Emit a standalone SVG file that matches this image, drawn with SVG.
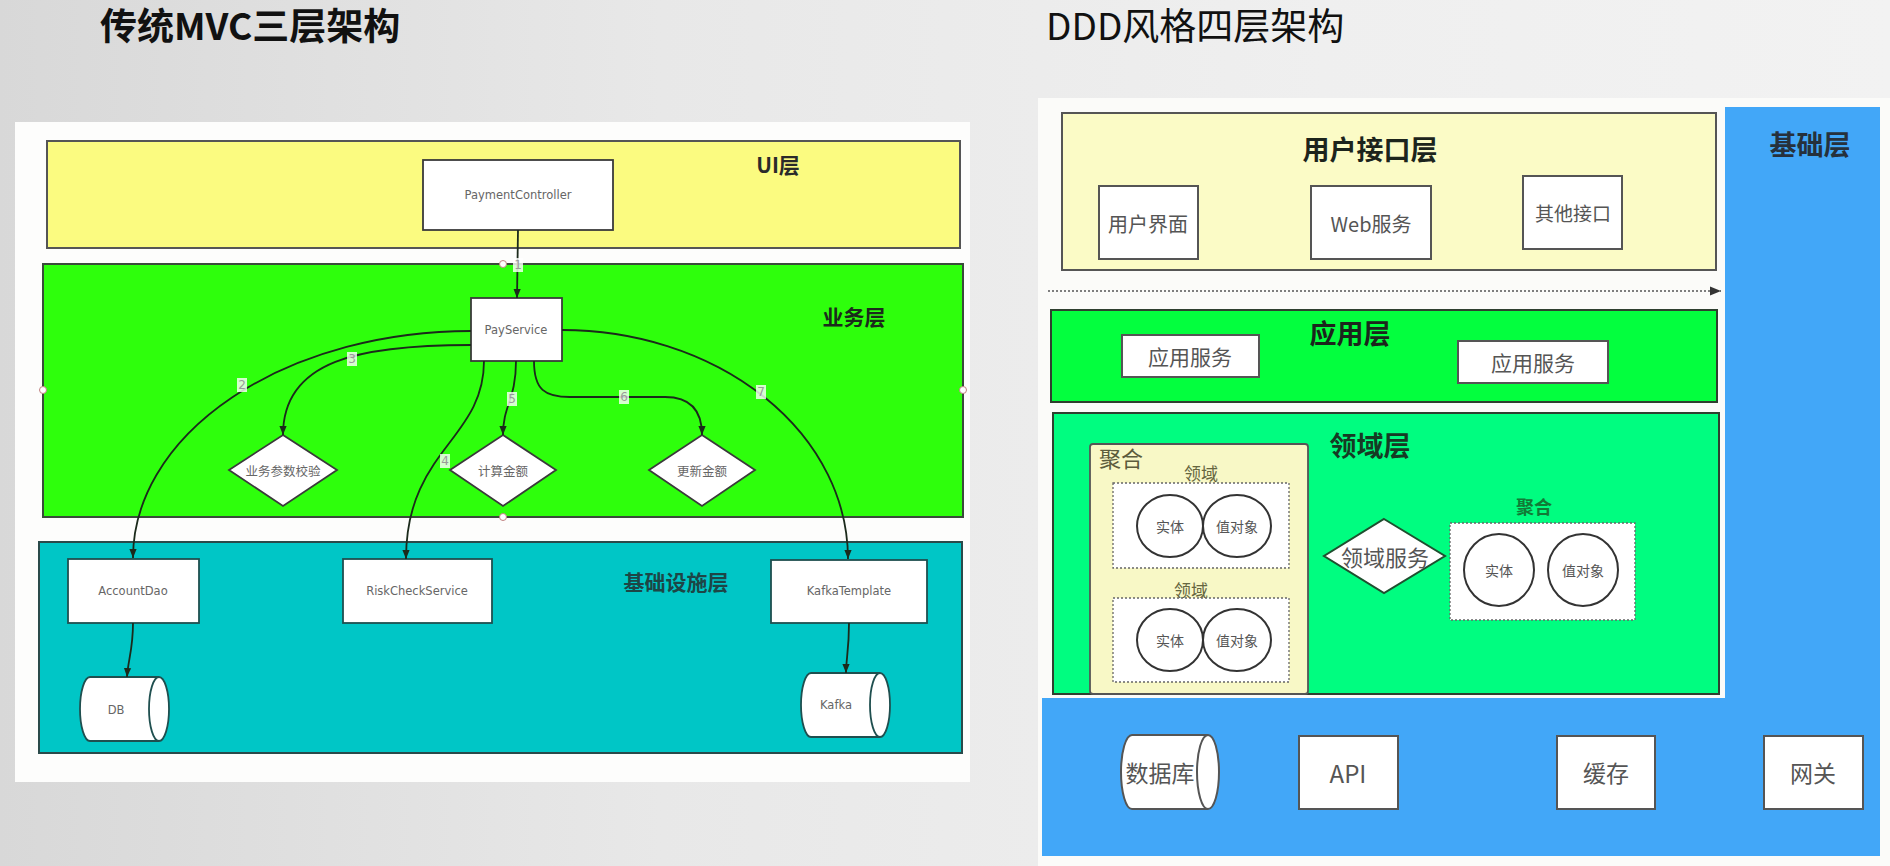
<svg xmlns="http://www.w3.org/2000/svg" width="1890" height="866" viewBox="0 0 1890 866">
  <defs>
    <linearGradient id="bg" x1="0" y1="0" x2="1" y2="0">
      <stop offset="0" stop-color="#d8d8d8"/>
      <stop offset="0.35" stop-color="#e8e8e8"/>
      <stop offset="0.7" stop-color="#efefef"/>
      <stop offset="1" stop-color="#f2f2f2"/>
    </linearGradient>
    <marker id="arrow" viewBox="0 0 10 10" refX="10" refY="5" markerWidth="9" markerHeight="9" markerUnits="userSpaceOnUse" orient="auto">
      <path d="M0,1 L10,5 L0,9 z" fill="#1b2a1b"/>
    </marker>
    <marker id="arrowDot" viewBox="0 0 10 10" refX="10" refY="5" markerWidth="11" markerHeight="11" markerUnits="userSpaceOnUse" orient="auto">
      <path d="M0,1 L10,5 L0,9 z" fill="#333"/>
    </marker>
    <style>
      .title { font-family: "Noto Sans CJK SC", "Noto Sans", sans-serif; font-size: 37px; fill: #111; }
      .layerL { font-family: "Noto Sans CJK SC", sans-serif; font-size: 21px; font-weight: bold; text-anchor: middle; }
      .layerR { font-family: "Noto Sans CJK SC", sans-serif; font-size: 27px; font-weight: bold; text-anchor: middle; fill: #1c241c; }
      .node { fill: #ffffff; stroke: #3a3a3a; stroke-width: 1.8; }
      .nodeT { fill: #ffffff; stroke: #1f4f4f; stroke-width: 1.8; }
      .lbl { font-family: "DejaVu Sans", "Noto Sans CJK SC", sans-serif; font-size: 11.5px; fill: #666; text-anchor: middle; dominant-baseline: central; }
      .cjk { font-family: "Noto Sans CJK SC", sans-serif; font-size: 12.5px; fill: #666; text-anchor: middle; dominant-baseline: central; }
      .edge { fill: none; stroke: #1b2a1b; stroke-width: 1.8; marker-end: url(#arrow); }
      .elbl { font-family: "DejaVu Sans", sans-serif; font-size: 12px; fill: #9a9a9a; text-anchor: middle; dominant-baseline: central; }
      .elblBg { fill: #ffffff; opacity: 0.8; }
      .handle { fill: #ffffff; stroke: #c08080; stroke-width: 1; }
      .box { fill: #ffffff; stroke: #555; stroke-width: 2; }
      .boxT { font-family: "Noto Sans CJK SC", sans-serif; font-size: 20px; fill: #555; text-anchor: middle; dominant-baseline: central; }
      .dotted { fill: #ffffff; stroke: #666; stroke-width: 1.3; stroke-dasharray: 2 2; }
      .circle { fill: #ffffff; stroke: #333; stroke-width: 2; }
      .circT { font-family: "Noto Sans CJK SC", sans-serif; font-size: 14px; fill: #555; text-anchor: middle; dominant-baseline: central; }
      .domT { font-family: "Noto Sans CJK SC", sans-serif; font-size: 17px; fill: #66663f; text-anchor: middle; dominant-baseline: central; }
      .bigT { font-family: "Noto Sans CJK SC", "Liberation Sans", sans-serif; font-size: 23px; fill: #555; text-anchor: middle; dominant-baseline: central; }
    </style>
  </defs>

  <!-- backdrop -->
  <rect x="0" y="0" width="1890" height="866" fill="url(#bg)"/>

  <!-- headings -->
  <text class="title" x="100" y="40" font-weight="bold">传统MVC三层架构</text>
  <text class="title" x="1046" y="40" style="font-weight:normal">DDD风格四层架构</text>

  <!-- ===== MVC three-layer ===== -->
  <rect x="15" y="122" width="955" height="660" fill="#fdfdfc"/>

  <g id="layer-ui">
    <rect x="47" y="141" width="913" height="107" fill="#fbfb80" stroke="#555" stroke-width="2"/>
    <text class="layerL" x="778" y="173" fill="#2a2a2a">UI层</text>
  </g>
  <g id="layer-business">
    <rect x="43" y="264" width="920" height="253" fill="#2eff0c" stroke="#3a4a3a" stroke-width="2"/>
    <text class="layerL" x="854" y="325" fill="#1c2a1c">业务层</text>
    <circle class="handle" cx="43" cy="390" r="3.5"/>
    <circle class="handle" cx="963" cy="390" r="3.5"/>
    <circle class="handle" cx="503" cy="264" r="3.5"/>
    <circle class="handle" cx="503" cy="517" r="3.5"/>
  </g>
  <g id="layer-infra">
    <rect x="39" y="542" width="923" height="211" fill="#00c6c6" stroke="#2a4a4a" stroke-width="2"/>
    <text class="layerL" x="676" y="590" fill="#1d4646">基础设施层</text>
  </g>

  <g id="payment-controller">
    <rect class="node" x="423" y="160" width="190" height="70"/>
    <text class="lbl" x="518" y="195">PaymentController</text>
  </g>
  <g id="pay-service">
    <rect class="node" x="471" y="298" width="91" height="63"/>
    <text class="lbl" x="516" y="330">PayService</text>
  </g>
  <g id="check-params">
    <polygon class="node" points="283,435 337,470 283,506 229,470"/>
    <text class="cjk" x="283" y="470">业务参数校验</text>
  </g>
  <g id="calc-amount">
    <polygon class="node" points="503,435 556,470 503,506 450,470"/>
    <text class="cjk" x="503" y="470">计算金额</text>
  </g>
  <g id="update-amount">
    <polygon class="node" points="702,435 755,470 702,506 649,470"/>
    <text class="cjk" x="702" y="470">更新金额</text>
  </g>
  <g id="account-dao">
    <rect class="nodeT" x="68" y="559" width="131" height="64"/>
    <text class="lbl" x="133" y="591">AccountDao</text>
  </g>
  <g id="risk-check-service">
    <rect class="nodeT" x="343" y="559" width="149" height="64"/>
    <text class="lbl" x="417" y="591">RiskCheckService</text>
  </g>
  <g id="kafka-template">
    <rect class="nodeT" x="771" y="560" width="156" height="63"/>
    <text class="lbl" x="849" y="591">KafkaTemplate</text>
  </g>
  <g id="db">
    <path class="nodeT" d="M90,677 H159 A10,32 0 0 1 159,741 H90 A10,32 0 0 1 90,677 Z"/>
    <path d="M159,677 A10,32 0 0 0 159,741" fill="none" stroke="#1f4f4f" stroke-width="1.8"/>
    <text class="lbl" x="116" y="710">DB</text>
  </g>
  <g id="kafka">
    <path class="nodeT" d="M811,673 H880 A10,32 0 0 1 880,737 H811 A10,32 0 0 1 811,673 Z"/>
    <path d="M880,673 A10,32 0 0 0 880,737" fill="none" stroke="#1f4f4f" stroke-width="1.8"/>
    <text class="lbl" x="836" y="705">Kafka</text>
  </g>

  <g id="mvc-connectors">
    <path class="edge" d="M518,230 L517,298"/>
    <path class="edge" d="M471,331 A338,227 0 0 0 133,558"/>
    <path class="edge" d="M471,345 C360,345 283,360 283,435"/>
    <path class="edge" d="M484,361 C484,440 406,450 406,559"/>
    <path class="edge" d="M516,361 C516,400 503,405 503,435"/>
    <path class="edge" d="M534,361 C534,390 545,397 570,397 L665,397 C690,397 702,410 702,435"/>
    <path class="edge" d="M562,330 A286,229 0 0 1 848,559"/>
    <path class="edge" d="M133,623 C133,650 128,660 127,677"/>
    <path class="edge" d="M849,623 C849,650 846,660 846,673"/>

    <rect class="elblBg" x="513" y="258" width="10" height="14"/>
    <text class="elbl" x="518" y="265">1</text>
    <rect class="elblBg" x="237" y="378" width="10" height="14"/>
    <text class="elbl" x="242" y="385">2</text>
    <rect class="elblBg" x="347" y="352" width="10" height="14"/>
    <text class="elbl" x="352" y="359">3</text>
    <rect class="elblBg" x="440" y="454" width="10" height="14"/>
    <text class="elbl" x="445" y="461">4</text>
    <rect class="elblBg" x="507" y="392" width="10" height="14"/>
    <text class="elbl" x="512" y="399">5</text>
    <rect class="elblBg" x="619" y="390" width="10" height="14"/>
    <text class="elbl" x="624" y="397">6</text>
    <rect class="elblBg" x="756" y="385" width="10" height="14"/>
    <text class="elbl" x="761" y="392">7</text>
  </g>

  <!-- ===== DDD four-layer ===== -->
  <rect x="1038" y="98" width="852" height="768" fill="#fbfbf9"/>

  <g id="layer-base">
    <path d="M1725,107 H1880 V856 H1042 V698 H1725 Z" fill="#42a7f8"/>
    <text class="layerR" x="1810" y="155" style="fill:#26313c">基础层</text>
  </g>

  <g id="layer-interface">
    <rect x="1062" y="113" width="654" height="157" fill="#fbfbc6" stroke="#555" stroke-width="2"/>
    <text class="layerR" x="1370" y="160">用户接口层</text>
  </g>
  <g id="user-ui">
    <rect class="box" x="1099" y="186" width="99" height="73"/>
    <text class="boxT" x="1148" y="223">用户界面</text>
  </g>
  <g id="web-service">
    <rect class="box" x="1311" y="186" width="120" height="73"/>
    <text class="boxT" x="1371" y="223">Web服务</text>
  </g>
  <g id="other-api">
    <rect class="box" x="1523" y="176" width="99" height="73"/>
    <text class="boxT" x="1573" y="212" style="font-size:19px">其他接口</text>
  </g>

  <g id="layer-application">
    <rect x="1051" y="310" width="666" height="92" fill="#03ff3e" stroke="#2f3f2f" stroke-width="2"/>
    <text class="layerR" x="1350" y="344">应用层</text>
  </g>
  <g id="app-service-1">
    <rect class="box" x="1122" y="335" width="137" height="42"/>
    <text class="boxT" x="1190" y="356" style="font-size:21px">应用服务</text>
  </g>
  <g id="app-service-2">
    <rect class="box" x="1458" y="341" width="150" height="42"/>
    <text class="boxT" x="1533" y="362" style="font-size:21px">应用服务</text>
  </g>

  <g id="layer-domain">
    <rect x="1053" y="413" width="666" height="281" fill="#00fd80" stroke="#2f3f2f" stroke-width="2"/>
    <text class="layerR" x="1370" y="456" style="fill:#163a24">领域层</text>
  </g>

  <g id="aggregate-1">
    <rect x="1090" y="444" width="218" height="250" rx="3" fill="#f8f8c6" stroke="#555" stroke-width="1.8"/>
    <text x="1099" y="467" font-family="Noto Sans CJK SC, sans-serif" font-size="22" fill="#5c5c3c">聚合</text>
  </g>
  <g id="domain-1">
    <text class="domT" x="1201" y="472">领域</text>
    <rect class="dotted" x="1113" y="483" width="176" height="85"/>
    <ellipse class="circle" cx="1170" cy="526" rx="33" ry="31"/>
    <ellipse class="circle" cx="1237" cy="526" rx="34" ry="31"/>
    <text class="circT" x="1170" y="526">实体</text>
    <text class="circT" x="1237" y="526">值对象</text>
  </g>
  <g id="domain-2">
    <text class="domT" x="1191" y="589">领域</text>
    <rect class="dotted" x="1113" y="598" width="176" height="84"/>
    <ellipse class="circle" cx="1170" cy="640" rx="33" ry="31"/>
    <ellipse class="circle" cx="1237" cy="640" rx="34" ry="31"/>
    <text class="circT" x="1170" y="640">实体</text>
    <text class="circT" x="1237" y="640">值对象</text>
  </g>
  <g id="domain-service">
    <polygon points="1384,519 1445,556 1384,593 1324,556" fill="#ffffff" stroke="#1f4f2f" stroke-width="2"/>
    <text class="boxT" x="1385" y="556" style="font-size:22px">领域服务</text>
  </g>
  <g id="aggregate-2">
    <text class="domT" x="1534" y="506" style="font-size:18px;font-weight:bold;fill:#127a36">聚合</text>
    <rect class="dotted" x="1450" y="523" width="185" height="97"/>
    <ellipse class="circle" cx="1499" cy="570" rx="35" ry="36"/>
    <ellipse class="circle" cx="1583" cy="570" rx="35" ry="36"/>
    <text class="circT" x="1499" y="570">实体</text>
    <text class="circT" x="1583" y="570">值对象</text>
  </g>

  <g id="database">
    <path class="box" d="M1132,735 H1208 A11,37 0 0 1 1208,809 H1132 A11,37 0 0 1 1132,735 Z"/>
    <path d="M1208,735 A11,37 0 0 0 1208,809" fill="none" stroke="#555" stroke-width="2"/>
    <text class="bigT" x="1160" y="772">数据库</text>
  </g>
  <g id="api">
    <rect class="box" x="1299" y="736" width="99" height="73"/>
    <text class="bigT" x="1348" y="772" style="font-size:24px">API</text>
  </g>
  <g id="cache">
    <rect class="box" x="1557" y="736" width="98" height="73"/>
    <text class="bigT" x="1606" y="772">缓存</text>
  </g>
  <g id="gateway">
    <rect class="box" x="1764" y="736" width="99" height="73"/>
    <text class="bigT" x="1813" y="772">网关</text>
  </g>

  <g id="ddd-connectors">
    <path d="M1048,291 H1721" fill="none" stroke="#555" stroke-width="1.5" stroke-dasharray="2 2" marker-end="url(#arrowDot)"/>
  </g>
</svg>
